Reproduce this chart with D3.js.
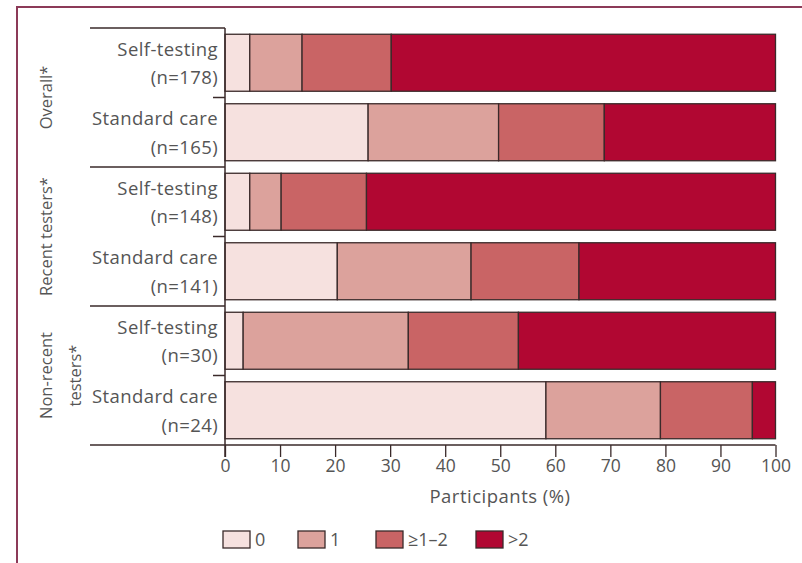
<!DOCTYPE html>
<html><head><meta charset="utf-8">
<script src="https://cdn.jsdelivr.net/npm/d3@7"></script>
<style>body{margin:0;background:#fff}svg{display:block}text{font-family:"Open Sans",sans-serif}</style>
</head><body><svg id="c" width="802" height="563"></svg>
<script>
const rows = ["Self-testing|(n=178)","Standard care|(n=165)","Self-testing|(n=148)","Standard care|(n=141)","Self-testing|(n=30)","Standard care|(n=24)"];
const categories = ["0","1","≥1–2",">2"];
const v0 = [4.5, 26.0, 4.5, 20.4, 3.3, 58.3];
const v1 = [9.5, 23.7, 5.7, 24.3, 30.0, 20.8];
const v2 = [16.2, 19.2, 15.5, 19.6, 20.0, 16.7];
const v3 = [69.8, 31.1, 74.3, 35.7, 46.7, 4.2];
const groups = [["Overall*"],["Recent testers*"],["Non-recent","testers*"]];
const xTicks = [0,10,20,30,40,50,60,70,80,90,100];
const colors = ["#f6e1df","#dca29c","#c96465","#b10732"];

const svg = d3.select("#c");
svg.append("path").attr("d","M17,570 V7 H810").attr("fill","none").attr("stroke","#8c3a58").attr("stroke-width",2);

const x = d3.scaleLinear().domain([0,100]).range([225,775.5]);
const y = d3.scaleBand().domain(rows).range([28,445]).paddingInner(0.18).paddingOuter(0.09);

const data = rows.map((r,i)=>({row:r, "0":v0[i], "1":v1[i], "≥1–2":v2[i], ">2":v3[i]}));
const stack = d3.stack().keys(categories)(data);
const ink = "#3a2a2a";
const txt = "#555";
svg.append("g").selectAll("g").data(stack).join("g").attr("fill",(d,i)=>colors[i])
 .selectAll("rect").data(d=>d).join("rect")
 .attr("x",d=>x(d[0])).attr("width",d=>x(d[1])-x(d[0]))
 .attr("y",d=>y(d.data.row)).attr("height",y.bandwidth())
 .attr("stroke",ink).attr("stroke-width",1.3);

const ax = svg.append("g").attr("transform","translate(0,445)")
 .call(d3.axisBottom(x).tickValues(xTicks).tickSize(12).tickPadding(3).tickFormat(d3.format("d")));
ax.select(".domain").remove();
ax.selectAll("line").attr("stroke",ink).attr("stroke-width",1.3);
ax.selectAll("text").attr("font-size",17.5).attr("fill",txt);
svg.append("line").attr("x1",90).attr("x2",775.5).attr("y1",445).attr("y2",445).attr("stroke",ink).attr("stroke-width",1.5);
svg.append("line").attr("x1",225).attr("x2",225).attr("y1",28).attr("y2",457).attr("stroke",ink).attr("stroke-width",1.5);

const mid = i => (y(rows[i])+y.bandwidth()+y(rows[i+1]))/2;
const sepY = [28, mid(1), mid(3), 445];
sepY.slice(0,3).forEach(s=>svg.append("line").attr("x1",90).attr("x2",225).attr("y1",s).attr("y2",s).attr("stroke",ink).attr("stroke-width",1.5));
[0,2,4].forEach(i=>{
  const s=mid(i);
  svg.append("line").attr("x1",213).attr("x2",225).attr("y1",s).attr("y2",s).attr("stroke",ink).attr("stroke-width",1.5);
});
rows.forEach(r=>{
  const [a,b]=r.split("|");
  const cy=y(r)+y.bandwidth()/2;
  const t=svg.append("text").attr("text-anchor","end").attr("font-size",18.5).attr("letter-spacing",0.4).attr("fill",txt);
  t.append("tspan").attr("x",218).attr("y",cy-7).text(a);
  t.append("tspan").attr("x",218).attr("y",cy+21.5).text(b);
});
groups.forEach((g,i)=>{
  const cy=(sepY[i]+sepY[i+1])/2;
  const t=svg.append("text").attr("transform",`translate(0,${cy}) rotate(-90)`).attr("text-anchor","middle").attr("font-size",16.5).attr("fill",txt);
  g.forEach((line,j)=>t.append("tspan").attr("x",0).attr("y",52+j*29).text(line));
});
svg.append("text").attr("x",500).attr("y",503).attr("text-anchor","middle").attr("font-size",18.5).attr("letter-spacing",0.5).attr("fill",txt).text("Participants (%)");
const lx=[223,298,376,476];
const lg=svg.append("g").selectAll("g").data(categories).join("g").attr("transform",(d,i)=>`translate(${lx[i]},531)`);
lg.append("rect").attr("width",27).attr("height",17).attr("fill",(d,i)=>colors[i]).attr("stroke",ink).attr("stroke-width",1.3);
lg.append("text").attr("x",32).attr("y",15).attr("font-size",18).attr("fill",txt).text(d=>d);
</script></body></html>
